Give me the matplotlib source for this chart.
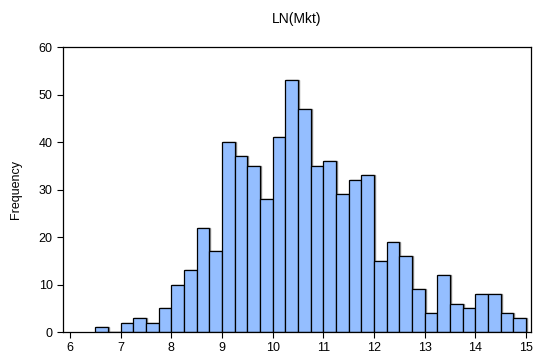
import numpy as np
import matplotlib
matplotlib.use("Agg")
import matplotlib.pyplot as plt

plt.rcParams['font.family'] = ['Liberation Sans', 'DejaVu Sans']

# histogram of LN(Mkt), bin width 0.25 starting at 6.5
bin_start = 6.5
bin_width = 0.25
counts = [1, 0, 2, 3, 2, 5, 10, 13, 22, 17,
          40, 37, 35, 28, 41, 53, 47, 35, 36, 29,
          32, 33, 15, 19, 16, 9, 4, 12, 6, 5,
          8, 8, 4, 3]
x_ticks = [6, 7, 8, 9, 10, 11, 12, 13, 14, 15]
y_ticks = [0, 10, 20, 30, 40, 50, 60]

edges = bin_start + bin_width * np.arange(len(counts))

fig = plt.figure(figsize=(5.36, 3.61), dpi=100)
ax = fig.add_axes([0.1175, 0.0803, 0.8732, 0.7895])

# faint grey shadow under the bars
ax.bar(edges + 0.02, counts, width=bin_width, align='edge',
       color='none', edgecolor='#8a8a8a', linewidth=1.0, zorder=1)
ax.bar(edges, counts, width=bin_width, align='edge',
       color='#94BEFF', edgecolor='black', linewidth=0.9, zorder=2)

ax.set_xlim(5.86, 15.1)
ax.set_ylim(0, 60)
ax.set_xticks(x_ticks)
ax.set_yticks(y_ticks)
ax.tick_params(direction='out', length=4, width=0.8, labelsize=9, colors='black')
for s in ax.spines.values():
    s.set_linewidth(0.9)

ax.set_ylabel("Frequency", fontsize=9, labelpad=12)
ax.set_title("LN(Mkt)", fontsize=10, pad=17)

fig.savefig("out.png", dpi=100)
